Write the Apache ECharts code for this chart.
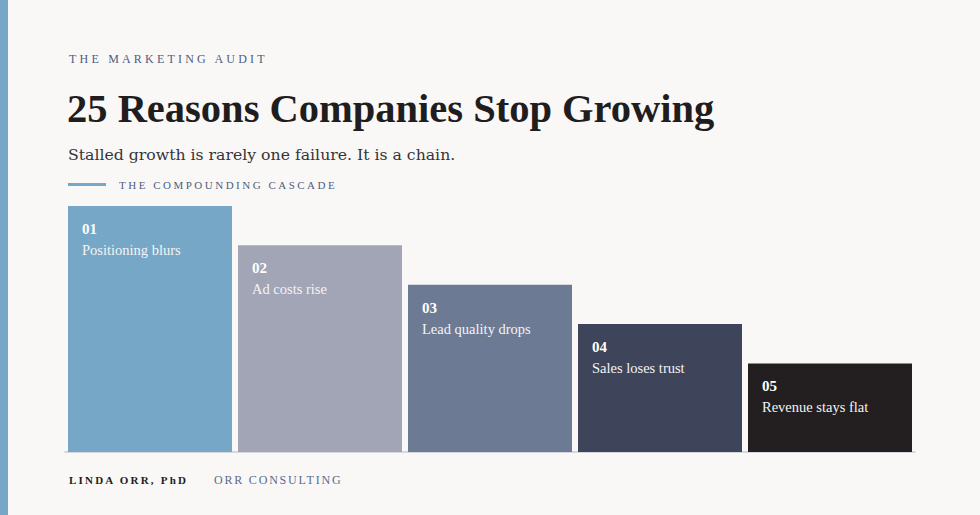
<!DOCTYPE html>
<html>
<head>
<meta charset="utf-8">
<script src="https://cdn.jsdelivr.net/npm/echarts@6/dist/echarts.min.js"></script>
<style>
  html, body { margin: 0; padding: 0; background: #f9f8f6; }
  #main { width: 980px; height: 515px; }
</style>
</head>
<body>
<div id="main"></div>
<script>
// chart data
var stepCodes = ['01', '02', '03', '04', '05'];
var stepNames = ['Positioning blurs', 'Ad costs rise', 'Lead quality drops', 'Sales loses trust', 'Revenue stays flat'];
var stepValues = [100, 84, 68, 52, 36];

var palette = ['#76a7c6', '#a2a5b6', '#6d7a93', '#3e4459', '#231f20'];

// letter spaced headings (px of tracking)
var tracked = {
    'THE MARKETING AUDIT': 3.2,
    'THE COMPOUNDING CASCADE': 2.5,
    'LINDA ORR, PhD': 2.2,
    'ORR CONSULTING': 1.8
};

var serif = '"Liberation Serif", "DejaVu Serif", serif';
var bookSerif = '"DejaVu Serif", "Liberation Serif", serif';

function buildOption() {
    return {
        backgroundColor: '#f9f8f6',
        animation: false,
        grid: {
            left: 65,
            right: 65,
            top: 206,
            bottom: 63
        },
        xAxis: {
            type: 'category',
            data: stepNames,
            axisLine: { show: true, lineStyle: { color: '#c8ccd7', width: 1.5 } },
            axisTick: { show: false },
            axisLabel: { show: false }
        },
        yAxis: {
            type: 'value',
            min: 0,
            max: 100,
            show: false,
            splitLine: { show: false }
        },
        series: [{
            type: 'bar',
            barWidth: 164,
            data: stepValues.map(function (v, i) {
                return { value: v, itemStyle: { color: palette[i] } };
            }),
            label: {
                show: true,
                position: 'insideTopLeft',
                distance: 14,
                offset: [0, -2],
                formatter: function (p) {
                    return '{num|' + stepCodes[p.dataIndex] + '}\n{name|' + stepNames[p.dataIndex] + '}';
                },
                rich: {
                    num: { fontFamily: serif, fontWeight: 'bold', fontSize: 15, color: '#ffffff', lineHeight: 22 },
                    name: { fontFamily: serif, fontSize: 14.5, color: '#f4f4f4', lineHeight: 20 }
                }
            },
            z: 3
        }],
        graphic: [
            { type: 'rect', left: 0, top: 0, shape: { width: 8, height: 515 }, style: { fill: '#76a7c6' } },
            { type: 'text', x: 69, y: 59, style: { text: 'THE MARKETING AUDIT', fill: '#4f5d7e', font: '12px ' + serif, verticalAlign: 'middle' } },
            { type: 'text', x: 67, y: 108, style: { text: '25 Reasons Companies Stop Growing', fill: '#1f1d1e', font: 'bold 40.5px ' + serif, verticalAlign: 'middle' } },
            { type: 'text', x: 68, y: 154, style: { text: 'Stalled growth is rarely one failure. It is a chain.', fill: '#34343a', font: '15.7px ' + bookSerif, verticalAlign: 'middle' } },
            { type: 'rect', x: 68, y: 183, shape: { width: 38, height: 3 }, style: { fill: '#76a7c6' } },
            { type: 'text', x: 119, y: 185, style: { text: 'THE COMPOUNDING CASCADE', fill: '#4f5d7e', font: '11px ' + serif, verticalAlign: 'middle' } },
            { type: 'text', x: 69, y: 480, style: { text: 'LINDA ORR, PhD', fill: '#1f1d1e', font: 'bold 11px ' + serif, verticalAlign: 'middle' } },
            { type: 'text', x: 214, y: 480, style: { text: 'ORR CONSULTING', fill: '#5a6a8a', font: '12px ' + serif, verticalAlign: 'middle' } }
        ]
    };
}

function applyTracking() {
    var texts = document.querySelectorAll('#main svg text');
    texts.forEach(function (t) {
        var s = tracked[t.textContent];
        if (s) {
            t.setAttribute('letter-spacing', s + 'px');
            t.style.letterSpacing = s + 'px';
        }
    });
}

var chart = echarts.init(document.getElementById('main'), null, { renderer: 'svg' });
chart.on('finished', applyTracking);
chart.setOption(buildOption());
applyTracking();
</script>
</body>
</html>
